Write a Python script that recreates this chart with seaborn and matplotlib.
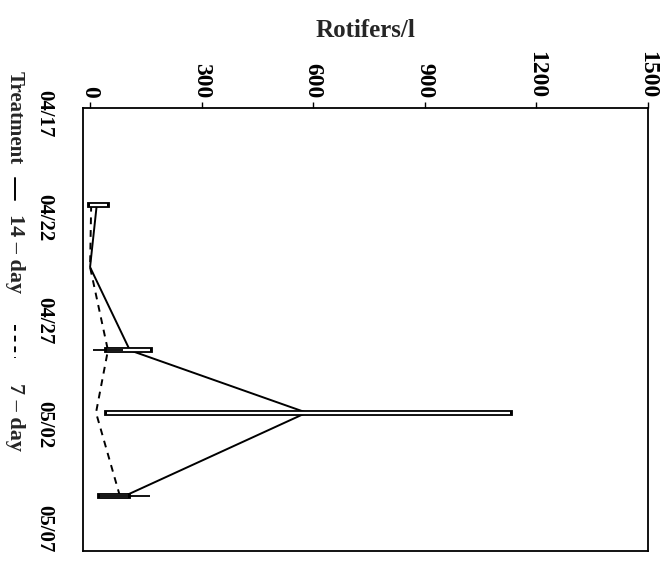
import matplotlib
matplotlib.use("Agg")
import matplotlib.pyplot as plt
import matplotlib.patheffects as pe
import matplotlib.transforms as mtransforms
from matplotlib.lines import Line2D
import seaborn as sns
import pandas as pd

# ---- data ----
sample_days = [4, 7, 11, 14, 18]          # days after 04/17
day14_mean = [18, 0, 107, 582, 94]
day14_lo = [0, 0, 46, 45, 27]
day14_hi = [45, 0, 161, 1129, 102]
day7_mean = [3, 0, 48, 16, 80]
day7_lo = [0, 0, 8, 0, 27]
day7_hi = [0, 0, 88, 0, 161]
date_ticks = [0, 5, 10, 15, 20]
date_labels = ["04/17", "04/22", "04/27", "05/02", "05/07"]
value_ticks = [0, 300, 600, 900, 1200, 1500]

df = pd.concat([
    pd.DataFrame({"day": sample_days, "rot": day14_mean, "lo": day14_lo, "hi": day14_hi,
                  "Treatment": "14-day"}),
    pd.DataFrame({"day": sample_days, "rot": day7_mean, "lo": day7_lo, "hi": day7_hi,
                  "Treatment": "7-day"}),
])

sns.set_style("white")
plt.rcParams["font.family"] = ["Liberation Serif", "DejaVu Serif"]
plt.rcParams["font.weight"] = "bold"

W, H = 663, 571
fig = plt.figure(figsize=(W / 100, H / 100), dpi=100)
L, R, T, B = 83, 648, 107.7, 550.7
ax = fig.add_axes([L / W, 1 - B / H, (R - L) / W, (B - T) / H])

sns.lineplot(data=df, x="rot", y="day", style="Treatment", orient="y", sort=False,
             estimator=None, color="black", linewidth=1.4,
             dashes={"14-day": "", "7-day": (3.5, 3)}, legend=False, ax=ax)

# error bars: 14-day drawn hollow, 7-day thin
d14 = df[(df.Treatment == "14-day") & (df.hi > df.lo)]
ax.hlines(d14["day"], d14["lo"], d14["hi"], colors="white",
          linewidth=1.6, capstyle="butt",
          path_effects=[pe.Stroke(linewidth=4.2, foreground="black", capstyle="projecting"), pe.Normal()],
          zorder=3)
d7 = df[(df.Treatment == "7-day") & (df.hi > df.lo)]
ax.hlines(d7["day"], d7["lo"], d7["hi"], colors="black", linewidth=1.3, zorder=4)

ax.set_xlim(-19, 1500)
ax.set_ylim(20.64, -0.67)

ax.xaxis.tick_top()
ax.set_xticks(value_ticks)
ax.set_xticklabels([str(v) for v in value_ticks], rotation=-90, fontsize=17, fontweight="bold")
ax.set_yticks(date_ticks)
ax.set_yticklabels(date_labels, rotation=-90, fontsize=15, fontweight="bold", va="center")
ax.tick_params(axis="x", direction="out", length=4, width=1, pad=3, colors="black")
ax.tick_params(axis="y", direction="out", length=4, width=1, pad=17, colors="black")
off = mtransforms.ScaledTranslation(0, 6 / 72, fig.dpi_scale_trans)
for lab in ax.get_yticklabels():
    lab.set_transform(lab.get_transform() + off)

ax.set_xlabel("Rotifers/l", fontsize=18, fontweight="bold")
ax.xaxis.set_label_position("top")
ax.xaxis.set_label_coords(0.5, 1 + (T - 31) / (B - T))
ax.xaxis.label.set_va("center")
ax.set_ylabel("")

for s in ax.spines.values():
    s.set_color("black")
    s.set_linewidth(1.3)

# rotated legend along the left edge
lx = 15 / W
def fy(py):
    return 1 - py / H
fig.text(lx, fy(118), "Treatment", rotation=-90, ha="center", va="center",
         fontsize=15, fontweight="bold")
fig.add_artist(Line2D([lx, lx], [fy(178), fy(200)], color="black", linewidth=1.4,
                      transform=fig.transFigure))
fig.text(lx, fy(254), "14 – day", rotation=-90, ha="center", va="center",
         fontsize=16, fontweight="bold")
fig.add_artist(Line2D([lx, lx], [fy(325), fy(358)], color="black", linewidth=1.4,
                      linestyle=(0, (3, 2.5)), transform=fig.transFigure))
fig.text(lx, fy(417), "7 – day", rotation=-90, ha="center", va="center",
         fontsize=16, fontweight="bold")

fig.savefig("out.png", dpi=100, facecolor="white")
